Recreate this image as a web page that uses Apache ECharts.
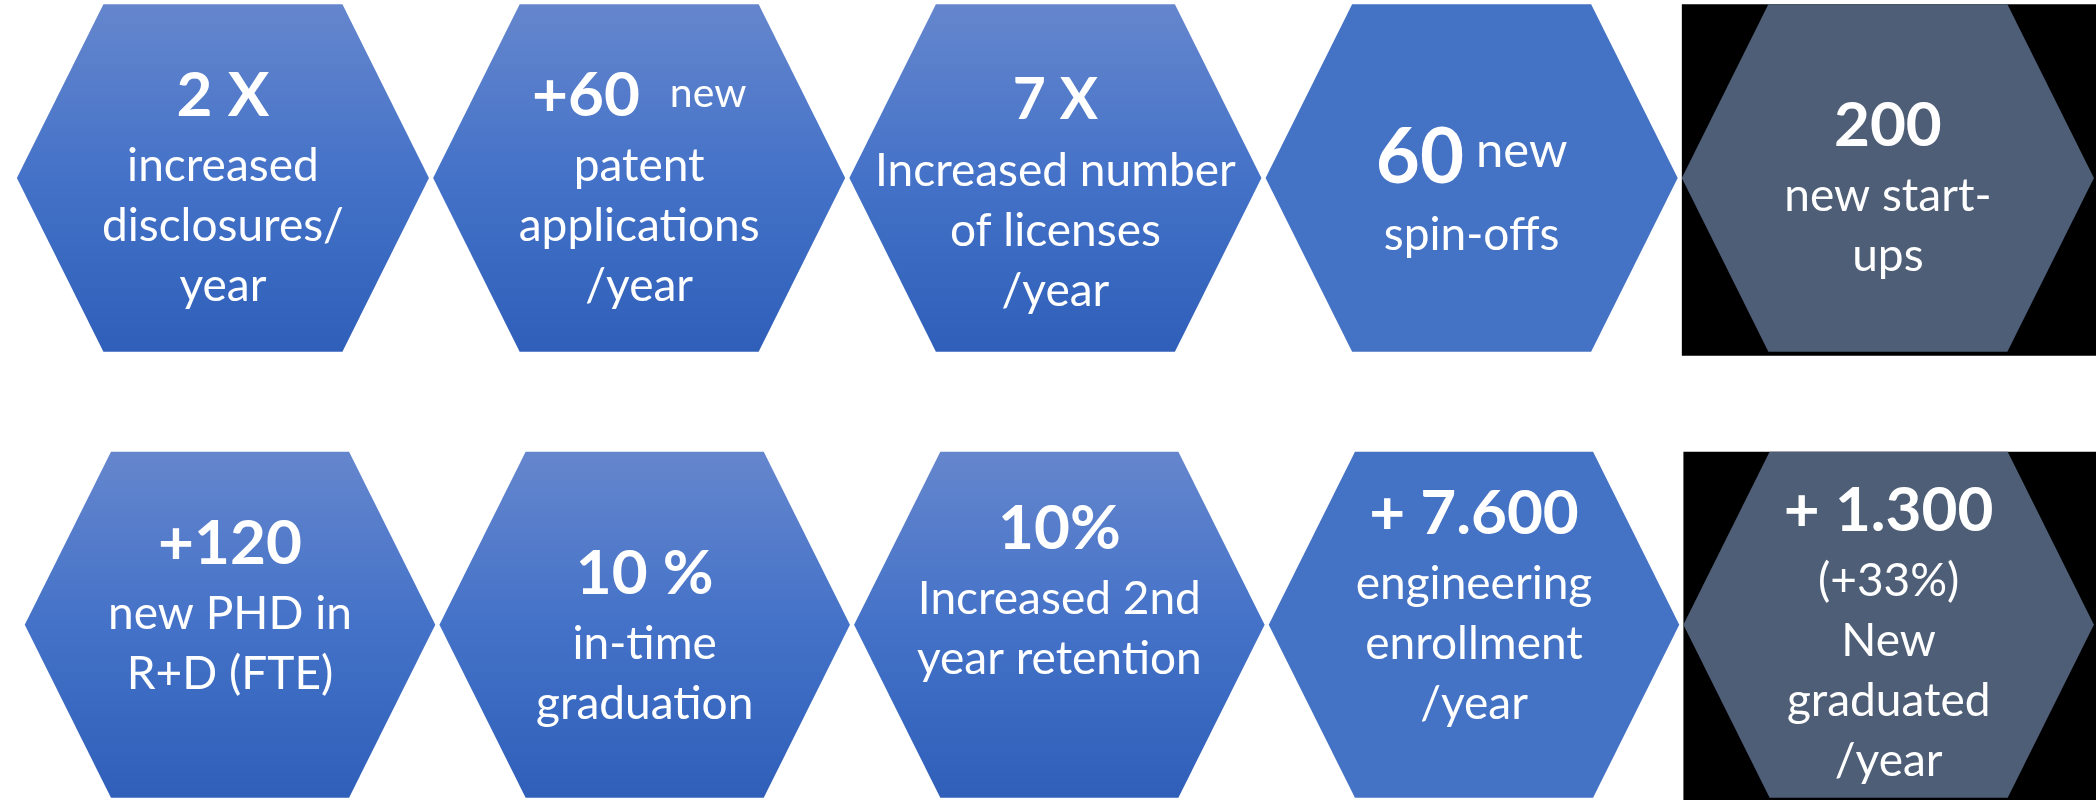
<!DOCTYPE html>
<html>
<head>
<meta charset="utf-8">
<script src="https://cdn.jsdelivr.net/npm/echarts@6/dist/echarts.min.js"></script>
<style>
html, body { margin: 0; padding: 0; background: #ffffff; }
#chart { width: 2096px; height: 800px; }
</style>
</head>
<body>
<div id="chart"></div>
<script>
// ---------- data ----------
const columns = ['1', '2', '3', '4', '5'];

const topHeadlines = ['2 X', '+60', '7 X', '60', '200'];
const topSuffixes = ['', 'new', '', 'new', ''];
const topCaptions = [
  ['increased', 'disclosures/', 'year'],
  ['patent', 'applications', '/year'],
  ['Increased number', 'of licenses', '/year'],
  ['spin-offs'],
  ['new start-', 'ups']
];

const bottomHeadlines = ['+120', '10 %', '10%', '+ 7.600', '+ 1.300'];
const bottomSuffixes = ['', '', '', '', ''];
const bottomCaptions = [
  ['new PHD in', 'R+D (FTE)'],
  ['in-time', 'graduation'],
  ['Increased 2nd', 'year retention'],
  ['engineering', 'enrollment', '/year'],
  ['(+33%)', 'New', 'graduated', '/year']
];

// ---------- styles ----------
const topKinds = ['gradient', 'gradient', 'gradient', 'flat', 'dark'];
const bottomKinds = ['gradient', 'gradient', 'gradient', 'flat', 'dark'];
const topTextShift = [8, 8, 13, 10, 8];
const bottomTextShift = [-21, 9, -36, -21, 6];
const topHeadSize = [62, 62, 57, 76, 62];
const bottomHeadSize = [62, 62, 62, 62, 62];
const topSuffixStyle = [null, { size: 41, pad: [0, 0, 4, 30] }, null, { size: 49, pad: [0, 0, 14, 12] }, null];
const bottomSuffixStyle = [null, null, null, null, null];

const FONT = 'Lato, "Open Sans", sans-serif';

function fillFor(kind) {
  if (kind === 'dark') return '#4D5E76';
  if (kind === 'flat') return '#4472C4';
  return new echarts.graphic.LinearGradient(0, 0, 0, 1, [
    { offset: 0, color: '#6586CD' },
    { offset: 0.5, color: '#4472C8' },
    { offset: 1, color: '#2F5FB9' }
  ]);
}

function makeRender(headlines, suffixes, captions, kinds, shifts, headSizes, suffixStyles) {
  return function (params, api) {
    const i = params.dataIndex;
    const c = api.coord([api.value(0), 0]);
    const band = api.size([1, 0])[0];
    const w = band * 0.99;
    const h = w * 0.843;
    const inset = w * 0.21;
    const cx = c[0], cy = c[1];
    const pts = [
      [cx - w / 2 + inset, cy - h / 2],
      [cx + w / 2 - inset, cy - h / 2],
      [cx + w / 2, cy],
      [cx + w / 2 - inset, cy + h / 2],
      [cx - w / 2 + inset, cy + h / 2],
      [cx - w / 2, cy]
    ];
    const children = [];
    if (kinds[i] === 'dark') {
      children.push({
        type: 'rect',
        shape: { x: cx - w / 2, y: cy - h / 2, width: w + 20, height: h + 4 },
        style: { fill: '#000000' }
      });
    }
    children.push({
      type: 'polygon',
      shape: { points: pts },
      style: { fill: fillFor(kinds[i]) }
    });
    const hs = headSizes[i];
    let first = '{h|' + headlines[i] + '}';
    if (suffixes[i]) first += '{s|' + suffixes[i] + '}';
    const lines = [first].concat(captions[i].map(t => '{r|' + t + '}'));
    const ss = suffixStyles[i] || { size: 46, pad: 0 };
    children.push({
      type: 'text',
      x: cx,
      y: cy + shifts[i],
      style: {
        text: lines.join('\n'),
        align: 'center',
        verticalAlign: 'middle',
        fill: '#ffffff',
        fontFamily: FONT,
        rich: {
          h: { fontSize: hs, fontWeight: 'bold', fontFamily: FONT, fill: '#ffffff', lineHeight: hs > 70 ? 95 : 80 },
          s: { fontSize: ss.size, fontFamily: FONT, fill: '#ffffff', lineHeight: 80, padding: ss.pad },
          r: { fontSize: 46, fontFamily: FONT, fill: '#ffffff', lineHeight: 60 }
        }
      }
    });
    return { type: 'group', children: children };
  };
}

const chart = echarts.init(document.getElementById('chart'), null, { renderer: 'canvas' });

const option = {
  backgroundColor: '#ffffff',
  animation: false,
  grid: [
    { left: 14.8, top: 0, width: 2085, height: 356 },
    { left: 22.7, top: 449.5, width: 2087, height: 356 }
  ],
  xAxis: [
    { type: 'category', gridIndex: 0, data: columns, show: false },
    { type: 'category', gridIndex: 1, data: columns, show: false }
  ],
  yAxis: [
    { type: 'value', gridIndex: 0, min: -1, max: 1, show: false },
    { type: 'value', gridIndex: 1, min: -1, max: 1, show: false }
  ],
  series: [
    {
      type: 'custom',
      xAxisIndex: 0, yAxisIndex: 0,
      clip: false,
      data: columns.map((c, i) => [i, 0]),
      renderItem: makeRender(topHeadlines, topSuffixes, topCaptions, topKinds, topTextShift, topHeadSize, topSuffixStyle)
    },
    {
      type: 'custom',
      xAxisIndex: 1, yAxisIndex: 1,
      clip: false,
      data: columns.map((c, i) => [i, 0]),
      renderItem: makeRender(bottomHeadlines, bottomSuffixes, bottomCaptions, bottomKinds, bottomTextShift, bottomHeadSize, bottomSuffixStyle)
    }
  ]
};
chart.setOption(option);
</script>
</body>
</html>
